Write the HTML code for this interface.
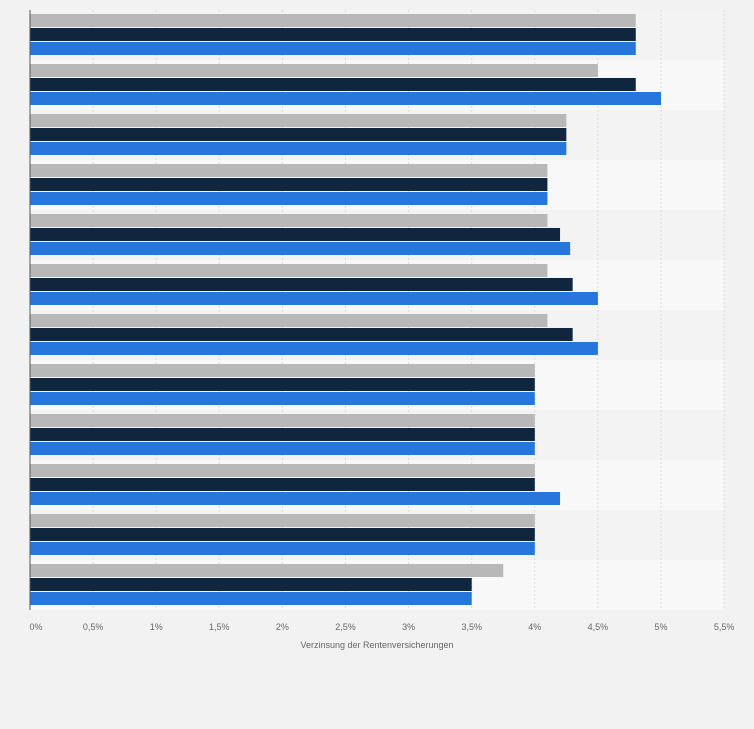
<!DOCTYPE html>
<html><head><meta charset="utf-8"><style>
body{margin:0;background:#f2f2f2;font-family:"Liberation Sans",sans-serif;}
svg{display:block}
</style></head><body>
<svg id="c" width="754" height="729"></svg>
<script>
const categories=["r1","r2","r3","r4","r5","r6","r7","r8","r9","r10","r11","r12"];
const seriesGray=[4.8,4.5,4.25,4.1,4.1,4.1,4.1,4,4,4,4,3.75];
const seriesNavy=[4.8,4.8,4.25,4.1,4.2,4.3,4.3,4,4,4,4,3.5];
const seriesBlue=[4.8,5.0,4.25,4.1,4.28,4.5,4.5,4,4,4.2,4,3.5];
const ticks=[0,0.5,1,1.5,2,2.5,3,3.5,4,4.5,5,5.5];
const tickLabels=["0%","0,5%","1%","1,5%","2%","2,5%","3%","3,5%","4%","4,5%","5%","5,5%"];
const NS="http://www.w3.org/2000/svg",svg=document.getElementById('c');
const x0=30,pxPer=126.2,top0=10,band=50;
const x=v=>x0+v*pxPer;
function el(t,a,p){const e=document.createElementNS(NS,t);for(const k in a)e.setAttribute(k,a[k]);(p||svg).appendChild(e);return e;}
categories.forEach((c,i)=>{
 const b=el('rect',{x:x0,y:top0+i*band,width:x(5.5)-x0,height:band,fill:i%2?'#f8f8f8':'#f3f3f3'});
 
 
});
ticks.forEach((t,i)=>{
 if(i>0){const g=el('line',{x1:x(t),x2:x(t),y1:top0,y2:top0+band*12,stroke:'#dcdcdc','stroke-dasharray':'2,2'});
 
 }
 const tl=el('text',{x:x(t)+(i==0?6:0),y:630,'font-size':9,fill:'#666','text-anchor':'middle'});
 tl.textContent=tickLabels[i];
 
 
});
const series=[[seriesGray,'#b8b8b8'],[seriesNavy,'#10263e'],[seriesBlue,'#2776dc']];
categories.forEach((c,i)=>{
 series.forEach((s,j)=>{
  const r=el('rect',{x:x0,y:top0+i*band+4+j*14,width:x(s[0][i])-x0,height:13,fill:s[1]});
  
  
 });
});
const ax=el('line',{x1:x0,x2:x0,y1:top0,y2:top0+band*12,stroke:'#555','stroke-width':1});


const tt=el('text',{x:377,y:648,'font-size':9,fill:'#666','text-anchor':'middle'});
tt.textContent='Verzinsung der Rentenversicherungen';


</script>
</body></html>
